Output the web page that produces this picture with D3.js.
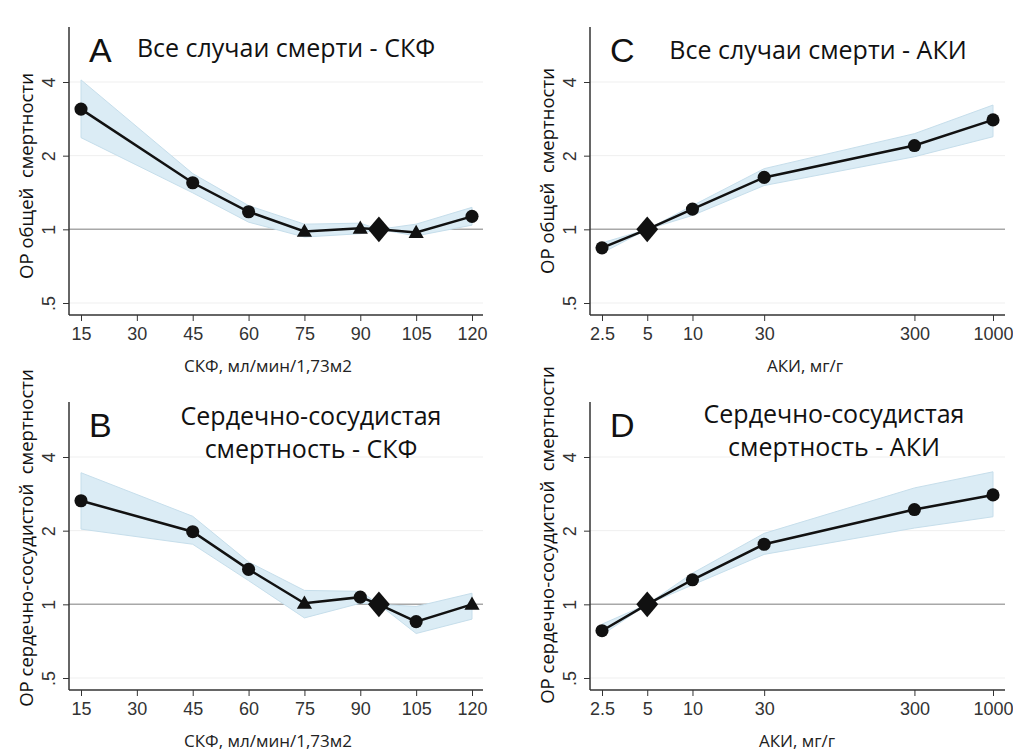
<!DOCTYPE html>
<html>
<head>
  <meta charset="utf-8">
  <script src="https://d3js.org/d3.v7.min.js"></script>
  <style>
    body { margin: 0; background: #fff; }
    .tick text { font-family: "Liberation Sans", Arial, sans-serif; fill: #333; }
    .domain, .tick line { stroke: #333; }
  </style>
</head>
<body>
  <svg id="chart" width="1013" height="754"></svg>

  <script>
    // x values
    const gfrX = [15, 45, 60, 75, 90, 95, 105, 120];
    const acrX = [2.5, 5, 10, 30, 300, 1000];

    // tick labels
    const gfrTicks = [15, 30, 45, 60, 75, 90, 105, 120];
    const acrTicks = [2.5, 5, 10, 30, 300, 1000];
    const yTicks = [0.5, 1, 2, 4];

    // A: all-cause mortality vs GFR
    const aEst = [3.1, 1.55, 1.18, 0.98, 1.01, 1, 0.97, 1.13];
    const aLo  = [2.37, 1.41, 1.07, 0.93, 0.96, 1, 0.94, 1.04];
    const aHi  = [4.08, 1.69, 1.25, 1.05, 1.06, 1, 1.05, 1.23];
    const aShape = ['circle', 'circle', 'circle', 'triangle', 'triangle', 'diamond', 'triangle', 'circle'];

    // B: cardiovascular mortality vs GFR
    const bEst = [2.65, 1.98, 1.39, 1.01, 1.07, 1, 0.85, 1.0];
    const bLo  = [2.03, 1.76, 1.25, 0.88, 1.01, 1, 0.76, 0.87];
    const bHi  = [3.45, 2.29, 1.49, 1.14, 1.13, 1, 0.98, 1.11];
    const bShape = ['circle', 'circle', 'circle', 'triangle', 'circle', 'diamond', 'circle', 'triangle'];

    // C: all-cause mortality vs ACR
    const cEst = [0.84, 1, 1.21, 1.63, 2.2, 2.8];
    const cLo  = [0.8, 1, 1.14, 1.51, 1.98, 2.39];
    const cHi  = [0.88, 1, 1.25, 1.77, 2.46, 3.22];

    // D: cardiovascular mortality vs ACR
    const dEst = [0.78, 1, 1.26, 1.76, 2.44, 2.8];
    const dLo  = [0.75, 1, 1.2, 1.6, 2.05, 2.28];
    const dHi  = [0.83, 1, 1.34, 1.95, 2.99, 3.48];
    const acrShape = ['circle', 'diamond', 'circle', 'circle', 'circle', 'circle'];

    const svg = d3.select('svg#chart');
    const fontTitle = '"Open Sans", "DejaVu Sans", sans-serif';

    function drawPanel(p) {
      const g = svg.append('g');

      const xScale = p.log
        ? d3.scaleLog().domain([2.5, 1000]).range([p.left + 12, p.right - 12])
        : d3.scaleLinear().domain([15, 120]).range([p.left + 12, p.right - 11]);

      const yScale = d3.scaleLog().base(2)
        .domain([0.5, 4])
        .range([p.bottom - 12, p.bottom - 233]);

      // gridlines
      g.selectAll('line.grid').data(yTicks)
        .join('line')
        .attr('class', 'grid')
        .attr('x1', p.left).attr('x2', p.right)
        .attr('y1', d => yScale(d)).attr('y2', d => yScale(d))
        .attr('stroke', d => d === 1 ? '#a8a8a8' : '#efefef')
        .attr('stroke-width', d => d === 1 ? 1.5 : 1);

      const rows = p.x.map((x, i) => ({ x: x, est: p.est[i], lo: p.lo[i], hi: p.hi[i], shape: p.shape[i] }));

      // confidence band
      g.append('path')
        .datum(rows)
        .attr('fill', '#dbecf5')
        .attr('stroke', '#c6deeb')
        .attr('stroke-width', 1)
        .attr('d', d3.area()
          .x(d => xScale(d.x))
          .y0(d => yScale(d.lo))
          .y1(d => yScale(d.hi)));

      g.append('path')
        .datum(rows)
        .attr('fill', 'none')
        .attr('stroke', '#111')
        .attr('stroke-width', 2.5)
        .attr('d', d3.line()
          .x(d => xScale(d.x))
          .y(d => yScale(d.est)));

      const symbols = {
        circle: d3.symbol().type(d3.symbolCircle).size(135),
        triangle: d3.symbol().type(d3.symbolTriangle).size(100),
        diamond: d3.symbol().type(d3.symbolSquare).size(330)
      };

      g.selectAll('path.mark').data(rows)
        .join('path')
        .attr('class', 'mark')
        .attr('d', d => symbols[d.shape]())
        .attr('transform', d => `translate(${xScale(d.x)},${yScale(d.est) + (d.shape === 'triangle' ? 1 : 0)})` + (d.shape === 'diamond' ? ' scale(0.85,1) rotate(45)' : ''))
        .attr('fill', '#111');

      // axes
      const bottomAxis = d3.axisBottom(xScale)
        .tickValues(p.log ? acrTicks : gfrTicks)
        .tickSize(6)
        .tickSizeOuter(0)
        .tickPadding(6)
        .tickFormat(d => String(d));

      const xAxis = g.append('g')
        .attr('transform', `translate(0,${p.bottom})`)
        .call(bottomAxis);
      xAxis.select('.domain').attr('d', `M${p.left},0H${p.right}`).attr('stroke-width', 1.5);
      xAxis.selectAll('.tick text').style('font-size', '18px');

      const leftAxis = d3.axisLeft(yScale)
        .tickValues(yTicks)
        .tickSize(6)
        .tickSizeOuter(0)
        .tickFormat(d => d === 0.5 ? '.5' : String(d));

      const yAxis = g.append('g')
        .attr('transform', `translate(${p.left},0)`)
        .call(leftAxis);
      yAxis.select('.domain').attr('d', `M0,${p.top}V${p.bottom}`).attr('stroke-width', 1.5);
      yAxis.selectAll('.tick text')
        .attr('x', null).attr('dy', null)
        .attr('transform', 'translate(-14,0) rotate(-90)')
        .attr('text-anchor', 'middle')
        .style('font-size', '18px');

      // axis titles
      g.append('text')
        .attr('transform', `translate(${p.left - 36},${p.yLabelY}) rotate(-90)`)
        .attr('text-anchor', 'middle')
        .style('font-family', fontTitle)
        .style('font-size', '18.5px')
        .style('white-space', 'pre')
        .style('fill', '#111')
        .text(p.yLabel);

      g.append('text')
        .attr('x', p.xLabelX)
        .attr('y', p.bottom + 57)
        .attr('text-anchor', 'middle')
        .style('font-family', fontTitle)
        .style('font-size', '17px')
        .style('fill', '#222')
        .text(p.xLabel);

      // panel letter and title
      g.append('text')
        .attr('x', p.left + 20)
        .attr('y', p.top + 35)
        .style('font-family', '"Liberation Sans", Arial, sans-serif')
        .style('font-size', '34px')
        .style('fill', '#111')
        .text(p.letter);

      p.title.forEach((t, i) => {
        g.append('text')
          .attr('x', p.titleX)
          .attr('y', p.top + p.titleY + i * 33)
          .attr('text-anchor', 'middle')
          .style('font-family', fontTitle)
          .style('font-size', '25px')
          .style('fill', '#111')
          .text(t);
      });
    }

    drawPanel({ letter: 'A', left: 69, right: 483, top: 27, bottom: 315, log: false,
      x: gfrX, est: aEst, lo: aLo, hi: aHi, shape: aShape,
      title: ['Все случаи смерти - СКФ'], titleX: 286, titleY: 30,
      yLabel: 'ОР общей  смертности', yLabelY: 176,
      xLabel: 'СКФ, мл/мин/1,73м2', xLabelX: 268 });

    drawPanel({ letter: 'C', left: 590, right: 1005, top: 27, bottom: 315, log: true,
      x: acrX, est: cEst, lo: cLo, hi: cHi, shape: acrShape,
      title: ['Все случаи смерти - АКИ'], titleX: 818, titleY: 32,
      yLabel: 'ОР общей  смертности', yLabelY: 171,
      xLabel: 'АКИ, мг/г', xLabelX: 805 });

    drawPanel({ letter: 'B', left: 69, right: 483, top: 402, bottom: 690, log: false,
      x: gfrX, est: bEst, lo: bLo, hi: bHi, shape: bShape,
      title: ['Сердечно-сосудистая', 'смертность - СКФ'], titleX: 311, titleY: 23,
      yLabel: 'ОР сердечно-сосудистой  смертности', yLabelY: 538,
      xLabel: 'СКФ, мл/мин/1,73м2', xLabelX: 268 });

    drawPanel({ letter: 'D', left: 590, right: 1005, top: 402, bottom: 690, log: true,
      x: acrX, est: dEst, lo: dLo, hi: dHi, shape: acrShape,
      title: ['Сердечно-сосудистая', 'смертность - АКИ'], titleX: 834, titleY: 21,
      yLabel: 'ОР сердечно-сосудистой  смертности', yLabelY: 535,
      xLabel: 'АКИ, мг/г', xLabelX: 797 });
  </script>
</body>
</html>
